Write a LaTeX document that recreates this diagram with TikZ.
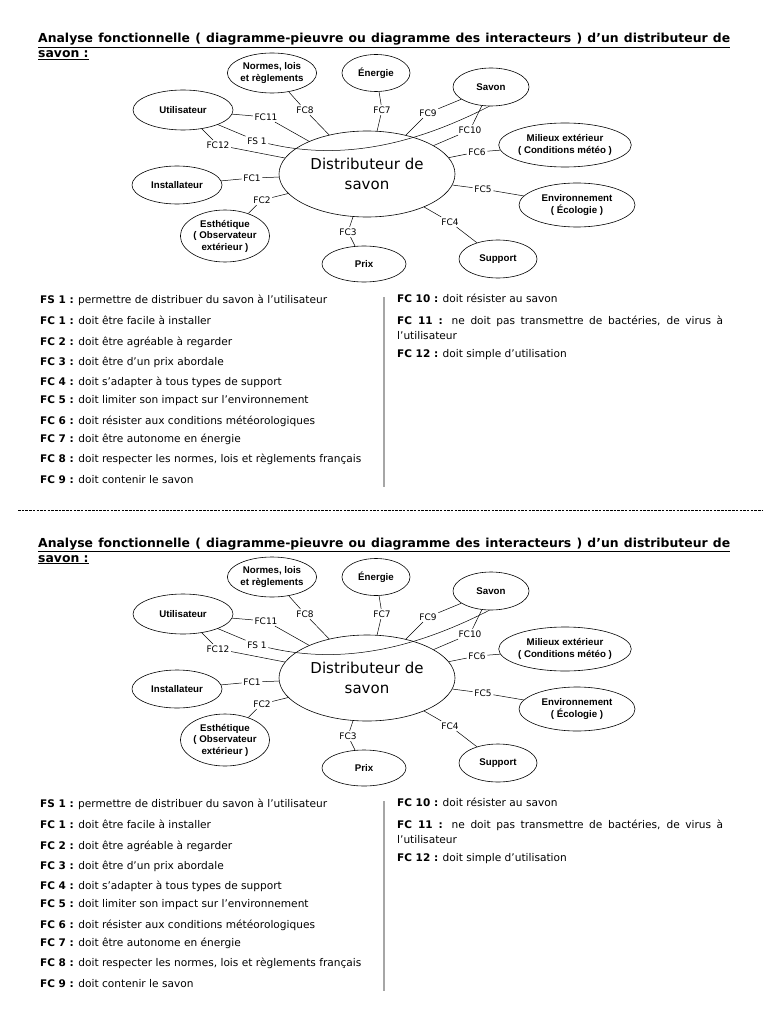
\documentclass[tikz,border=0pt]{standalone}
\usepackage{fontspec}
\setmainfont{DejaVu Sans}
\newfontfamily\arialf{Liberation Sans}
\newfontfamily\descf{DejaVu Sans}
\usetikzlibrary{shapes.geometric}
\tikzset{
  ext/.style={draw, ellipse, inner sep=0pt, align=center, line width=0.6pt,
    font=\arialf\bfseries\fontsize{9.7}{11.5}\selectfont},
  core/.style={draw, ellipse, inner sep=0pt, align=center, line width=0.6pt,
    font=\fontsize{15}{20}\selectfont},
  fcl/.style={inner sep=1.5pt, font=\fontsize{9}{10}\selectfont},
  conn/.style={line width=0.5pt},
  item/.style={anchor=base west, inner sep=0pt, font=\descf\fontsize{10.6}{12}\selectfont},
  ttl/.style={anchor=base west, inner sep=0pt, font=\bfseries\fontsize{12.4}{14}\selectfont},
  sepline/.style={draw=black!35, line width=1.6pt},
}
\newcommand\lab[1]{{\fontsize{10.5}{12}\selectfont\normalfont\bfseries #1}}
\newcommand\octo[2]{%
\begin{scope}[yshift=#2]
  % title
  \node[ttl] (#1t1) at (38,43) {\underline{\makebox[692pt][s]{Analyse fonctionnelle ( diagramme-pieuvre ou diagramme des interacteurs ) d’un distributeur de}}};
  \node[ttl] (#1t2) at (38,58) {\underline{savon :}};
  % central
  \node[core, minimum width=176pt, minimum height=86pt] (#1c) at (367,174) {Distributeur de\\savon};
  % external elements
  \node[ext, minimum width=86pt, minimum height=40pt] (#1norm) at (272,73) {Normes, lois\\et règlements};
  \node[ext, minimum width=68pt, minimum height=37pt] (#1ener) at (376,73) {Énergie};
  \node[ext, minimum width=76pt, minimum height=38pt] (#1sav) at (491,87) {Savon};
  \node[ext, minimum width=100pt, minimum height=40pt] (#1util) at (183,110) {Utilisateur};
  \node[ext, minimum width=124pt, minimum height=44pt] (#1mil) at (565,145) {Milieux extérieur\\( Conditions météo )};
  \node[ext, minimum width=90pt, minimum height=38pt] (#1inst) at (177,185) {Installateur};
  \node[ext, minimum width=116pt, minimum height=44pt] (#1env) at (577,205) {Environnement\\( Écologie )};
  \node[ext, minimum width=86pt, minimum height=52pt] (#1est) at (225,236) {Esthétique\\( Observateur\\extérieur )};
  \node[ext, minimum width=84pt, minimum height=36pt] (#1prix) at (364,264) {Prix};
  \node[ext, minimum width=78pt, minimum height=38pt] (#1sup) at (498,259) {Support};
  % function labels
  \node[fcl] (#1l8) at (305,110) {FC8};
  \node[fcl] (#1l7) at (382,110) {FC7};
  \node[fcl] (#1l9) at (428,113) {FC9};
  \node[fcl] (#1l10) at (470,130) {FC10};
  \node[fcl] (#1l6) at (477,152) {FC6};
  \node[fcl] (#1l5) at (483,189) {FC5};
  \node[fcl] (#1l4) at (450,222) {FC4};
  \node[fcl] (#1l3) at (348,232) {FC3};
  \node[fcl] (#1l2) at (262,200) {FC2};
  \node[fcl] (#1l1) at (252,178) {FC1};
  \node[fcl] (#1l11) at (266,117) {FC11};
  \node[fcl] (#1ls) at (257,141) {FS 1};
  \node[fcl] (#1l12) at (218,145) {FC12};
  % connectors
  \draw[conn] (#1norm) -- (#1l8); \draw[conn] (#1l8) -- (#1c);
  \draw[conn] (#1ener) -- (#1l7); \draw[conn] (#1l7) -- (#1c);
  \draw[conn] (#1sav) -- (#1l9); \draw[conn] (#1l9) -- (#1c);
  \draw[conn] (#1sav) -- (#1l10); \draw[conn] (#1l10) -- (#1c);
  \draw[conn] (#1mil) -- (#1l6); \draw[conn] (#1l6) -- (#1c);
  \draw[conn] (#1env) -- (#1l5); \draw[conn] (#1l5) -- (#1c);
  \draw[conn] (#1sup) -- (#1l4); \draw[conn] (#1l4) -- (#1c);
  \draw[conn] (#1prix) -- (#1l3); \draw[conn] (#1l3) -- (#1c);
  \draw[conn] (#1est) -- (#1l2); \draw[conn] (#1l2) -- (#1c);
  \draw[conn] (#1inst) -- (#1l1); \draw[conn] (#1l1) -- (#1c);
  \draw[conn] (#1util) -- (#1l11); \draw[conn] (#1l11) -- (#1c);
  \draw[conn] (#1util) -- (#1l12); \draw[conn] (#1l12) -- (#1c);
  \draw[conn] (#1util) -- (#1ls);
  \draw[conn] (#1ls) .. controls (330,158) and (400,152) .. (#1sav.265);
  % list, left column
  \node[item] (#1f0) at (40,303) {\lab{FS 1 :} permettre de distribuer du savon à l’utilisateur};
  \node[item] (#1f1) at (40,324) {\lab{FC 1 :} doit être facile à installer};
  \node[item] (#1f2) at (40,345) {\lab{FC 2 :} doit être agréable à regarder};
  \node[item] (#1f3) at (40,365) {\lab{FC 3 :} doit être d’un prix abordale};
  \node[item] (#1f4) at (40,385) {\lab{FC 4 :} doit s’adapter à tous types de support};
  \node[item] (#1f5) at (40,403) {\lab{FC 5 :} doit limiter son impact sur l’environnement};
  \node[item] (#1f6) at (40,424) {\lab{FC 6 :} doit résister aux conditions météorologiques};
  \node[item] (#1f7) at (40,442) {\lab{FC 7 :} doit être autonome en énergie};
  \node[item] (#1f8) at (40,462) {\lab{FC 8 :} doit respecter les normes, lois et règlements français};
  \node[item] (#1f9) at (40,483) {\lab{FC 9 :} doit contenir le savon};
  % separator
  \coordinate (#1s1) at (384,297);
  \coordinate (#1s2) at (384,487);
  \draw[sepline] (#1s1) -- (#1s2);
  % list, right column
  \node[item] (#1f10) at (397,302) {\lab{FC 10 :} doit résister au savon};
  \node[item] (#1f11) at (397,324) {\makebox[326pt][s]{\lab{FC 11 :} ne doit pas transmettre de bactéries, de virus à}};
  \node[item] (#1f11b) at (397,339) {l’utilisateur};
  \node[item] (#1f12) at (397,357) {\lab{FC 12 :} doit simple d’utilisation};
\end{scope}}

\begin{document}
\begin{tikzpicture}[x=1pt, y=-1pt]
  \fill[white] (0,0) rectangle (768,1024);
  \useasboundingbox (0,0) rectangle (768,1024);
  \octo{a}{0pt}
  \coordinate (d1) at (18,510);
  \coordinate (d2) at (762,510);
  \draw[dash pattern=on 2.5pt off 1.2pt, line width=0.7pt] (d1) -- (d2);
  \octo{b}{-504pt}
\end{tikzpicture}
\end{document}
